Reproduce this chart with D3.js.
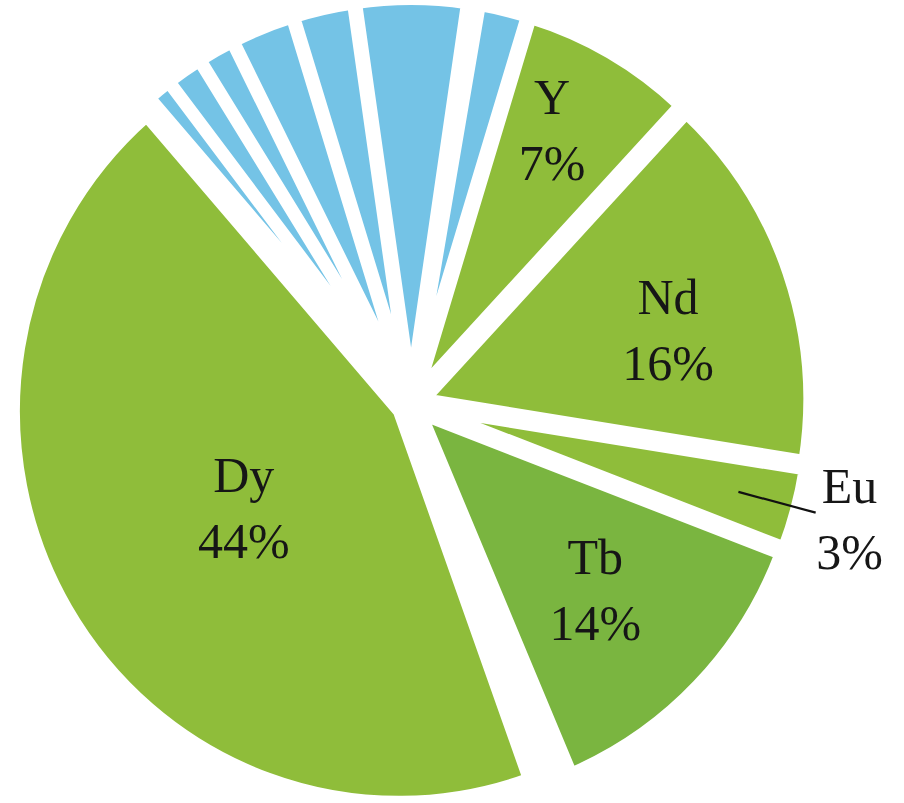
<!DOCTYPE html>
<html>
<head>
<meta charset="utf-8">
<script src="https://cdn.jsdelivr.net/npm/d3@7"></script>
<style>
  html, body { margin: 0; padding: 0; background: #fff; }
  svg { display: block; }
  .lbl { font-family: "Liberation Serif", "Times New Roman", "DejaVu Serif", serif; font-size: 50px; }
</style>
</head>
<body>
<svg id="chart" width="904" height="803"></svg>
<script>
// slices in clockwise order, starting with Y (the two "blank" slices are the unfilled gaps)
const elements = ["Y", "Nd", "Eu", "Tb", "blank1", "Dy", "o1", "o2", "o3", "o4", "o5", "o6", "blank2", "o7"]
const shares = [7.2, 15.6, 3.3, 12.8, 0.9, 44.1, 1.0, 1.5, 1.5, 2.6, 2.5, 4.6, 0.4, 2.0]
const kinds = ["green", "green", "green", "dark", "none", "green", "blue", "blue", "blue", "blue", "blue", "blue", "none", "blue"]

// printed labels as they read on the chart
const labelNames = ["Y", "Nd", "Eu", "Tb", "Dy"]
const labelPercents = ["7%", "16%", "3%", "14%", "44%"]

const colour = { green: "#8fbd3a", dark: "#7ab540", blue: "#74c3e6", none: "none" }

const width = 904, height = 803
const cx = 411, cy = 404, radius = 385, explode = 14, yScale = 1.015, border = 12
const rad = Math.PI / 180

// label distance from the slice tip and small angle shift
const labelPlace = { Y: [296, -3.05], Nd: [254, 2.7], Eu: [439, -0.55], Tb: [246, 0.9], Dy: [182, -1.16] }

const svg = d3.select("#chart")

const rows = elements.map((e, i) => ({ name: e, share: shares[i], kind: kinds[i] }))

const pie = d3.pie()
    .sort(null)
    .value(d => d.share)
    .startAngle(17 * rad)
    .endAngle(17 * rad + 2 * Math.PI)

const arc = d3.arc().innerRadius(0).outerRadius(radius)
const slices = pie(rows)

function mid(d) { return (d.startAngle + d.endAngle) / 2 }
function dir(a, r) { return [Math.sin(a) * r, -Math.cos(a) * r] }

const g = svg.append("g")
    .attr("transform", `translate(${cx},${cy}) scale(1,${yScale})`)

g.selectAll("path")
    .data(slices)
    .join("path")
    .attr("transform", d => {
        const [x, y] = dir(mid(d), explode)
        return `translate(${x},${y})`
    })
    .attr("d", arc)
    .attr("fill", d => colour[d.data.kind])
    .attr("stroke", "#fff")
    .attr("stroke-width", border)

// tip of an exploded slice in page coordinates
function tip(d) {
    const [x, y] = dir(mid(d), explode)
    return [cx + x, cy + y * yScale]
}

const labels = svg.append("g")
    .attr("class", "lbl")
    .attr("fill", "#161616")
    .attr("text-anchor", "middle")

labelNames.forEach((name, i) => {
    const d = slices.find(s => s.data.name === name)
    const [r, da] = labelPlace[name]
    const [tx, ty] = tip(d)
    const [lx, ly] = dir(mid(d) + da * rad, r)
    const x = tx + lx, y = ty + ly
    labels.append("text").attr("x", x).attr("y", y - 14).text(name)
    labels.append("text").attr("x", x).attr("y", y + 52).text(labelPercents[i])

    if (name === "Eu") {
        const [ax, ay] = dir(mid(d), 325)
        const [bx, by] = dir(mid(d), 405)
        svg.append("line")
            .attr("x1", tx + ax).attr("y1", ty + ay)
            .attr("x2", tx + bx).attr("y2", ty + by)
            .attr("stroke", "#111")
            .attr("stroke-width", 2.2)
    }
})
</script>
</body>
</html>
